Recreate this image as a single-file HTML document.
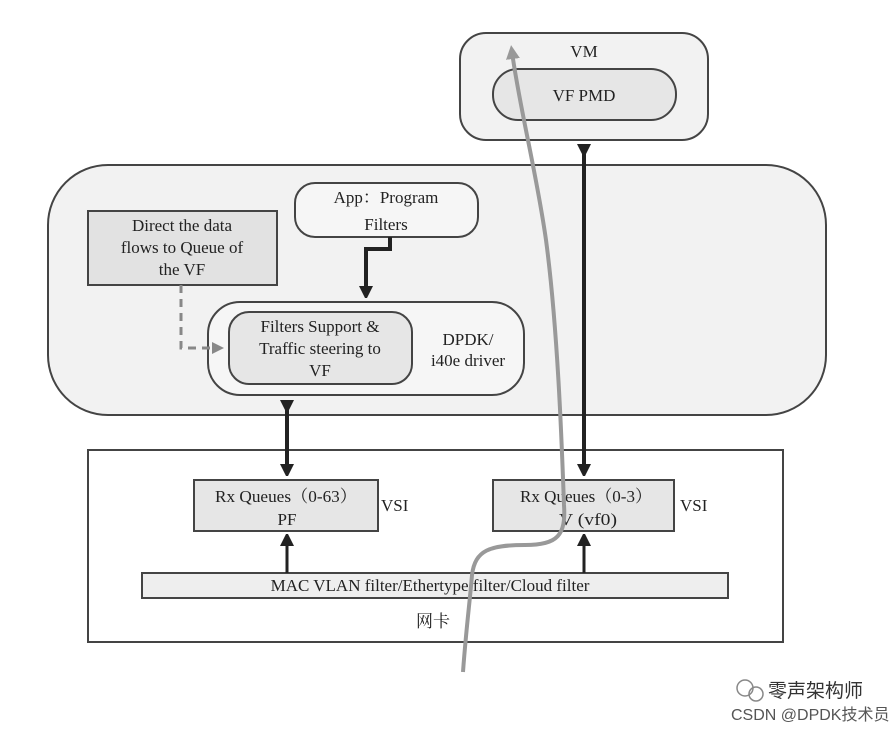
<!DOCTYPE html>
<html><head><meta charset="utf-8"><style>body{margin:0;background:#fff}svg{display:block}</style></head><body>
<svg width="896" height="730" viewBox="0 0 896 730" xmlns="http://www.w3.org/2000/svg" font-family="Liberation Serif, Noto Serif CJK SC, serif" font-size="17" fill="#222">
<defs>
<marker id="ah" markerWidth="12" markerHeight="14" refX="6" refY="7" orient="auto" markerUnits="userSpaceOnUse"><path d="M0,0 L14,7 L0,14 z" fill="#222"/></marker>
<marker id="ahg" markerWidth="14" markerHeight="14" refX="7" refY="7" orient="auto" markerUnits="userSpaceOnUse"><path d="M0,0 L14,7 L0,14 z" fill="#999"/></marker>
<marker id="ahd" markerWidth="12" markerHeight="12" refX="6" refY="6" orient="auto" markerUnits="userSpaceOnUse"><path d="M0,0 L12,6 L0,12 z" fill="#888"/></marker>
</defs>
<rect x="460" y="33" width="248" height="107" rx="26" fill="#f2f2f2" stroke="#444" stroke-width="2"/>
<text x="584" y="57" text-anchor="middle">VM</text>
<rect x="493" y="69" width="183" height="51" rx="25" fill="#e6e6e6" stroke="#444" stroke-width="2"/>
<text x="584" y="101" text-anchor="middle">VF PMD</text>
<rect x="48" y="165" width="778" height="250" rx="60" fill="#f2f2f2" stroke="#444" stroke-width="2"/>
<rect x="295" y="183" width="183" height="54" rx="20" fill="#f6f6f6" stroke="#444" stroke-width="2"/>
<text x="386" y="203" text-anchor="middle">App：Program</text>
<text x="386" y="230" text-anchor="middle">Filters</text>
<rect x="88" y="211" width="189" height="74" fill="#e2e2e2" stroke="#444" stroke-width="2"/>
<text x="182" y="231" text-anchor="middle">Direct the data</text>
<text x="182" y="253" text-anchor="middle">flows to Queue of</text>
<text x="182" y="275" text-anchor="middle">the VF</text>
<rect x="208" y="302" width="316" height="93" rx="32" fill="#f6f6f6" stroke="#444" stroke-width="2"/>
<rect x="229" y="312" width="183" height="72" rx="20" fill="#e6e6e6" stroke="#444" stroke-width="2"/>
<text x="320" y="332" text-anchor="middle">Filters Support &amp;</text>
<text x="320" y="354" text-anchor="middle">Traffic steering to</text>
<text x="320" y="376" text-anchor="middle">VF</text>
<text x="468" y="345" text-anchor="middle">DPDK/</text>
<text x="468" y="366" text-anchor="middle">i40e driver</text>
<path d="M390,237 V249 H366 V292" fill="none" stroke="#222" stroke-width="4" marker-end="url(#ah)"/>
<path d="M181,285 V348 H218" fill="none" stroke="#888" stroke-width="3" stroke-dasharray="8,6" marker-end="url(#ahd)"/>
<rect x="88" y="450" width="695" height="192" fill="#fff" stroke="#444" stroke-width="2"/>
<rect x="194" y="480" width="184" height="51" fill="#e6e6e6" stroke="#444" stroke-width="2"/>
<text x="215" y="502" textLength="142" lengthAdjust="spacingAndGlyphs">Rx Queues（0-63）</text>
<text x="287" y="525" text-anchor="middle">PF</text>
<text x="381" y="511">VSI</text>
<rect x="493" y="480" width="181" height="51" fill="#e6e6e6" stroke="#444" stroke-width="2"/>
<text x="520" y="502" textLength="132" lengthAdjust="spacingAndGlyphs">Rx Queues（0-3）</text>
<text x="559" y="525" textLength="58" lengthAdjust="spacingAndGlyphs">V (vf0)</text>
<text x="680" y="511">VSI</text>
<rect x="142" y="573" width="586" height="25" fill="#eeeeee" stroke="#444" stroke-width="2"/>
<text x="430" y="591" text-anchor="middle">MAC VLAN filter/Ethertype filter/Cloud filter</text>
<text x="433" y="627" text-anchor="middle">网卡</text>
<line x1="287" y1="406" x2="287" y2="470" stroke="#222" stroke-width="4" marker-start="url(#ah)" marker-end="url(#ah)"/>
<line x1="287" y1="573" x2="287" y2="540" stroke="#222" stroke-width="3" marker-end="url(#ah)"/>
<line x1="584" y1="150" x2="584" y2="470" stroke="#222" stroke-width="4" marker-start="url(#ah)" marker-end="url(#ah)"/>
<line x1="584" y1="573" x2="584" y2="540" stroke="#222" stroke-width="3" marker-end="url(#ah)"/>
<path d="M463,672 C466,630 470,600 472,575 C475,550 490,545 525,545 C558,545 566,535 564,505 C562,450 558,330 546,240 C536,170 520,110 512,52" fill="none" stroke="#999" stroke-width="4" marker-end="url(#ahg)"/>
<g font-family="Liberation Sans, Noto Sans CJK SC, sans-serif" fill="#555">
<circle cx="745" cy="688" r="8" fill="none" stroke="#888" stroke-width="1.5"/>
<circle cx="756" cy="694" r="7" fill="none" stroke="#888" stroke-width="1.5"/>
<text x="768" y="697" font-size="19" fill="#333">零声架构师</text>
<text x="731" y="720" font-size="16">CSDN @DPDK技术员</text>
</g>
</svg>
</body></html>
